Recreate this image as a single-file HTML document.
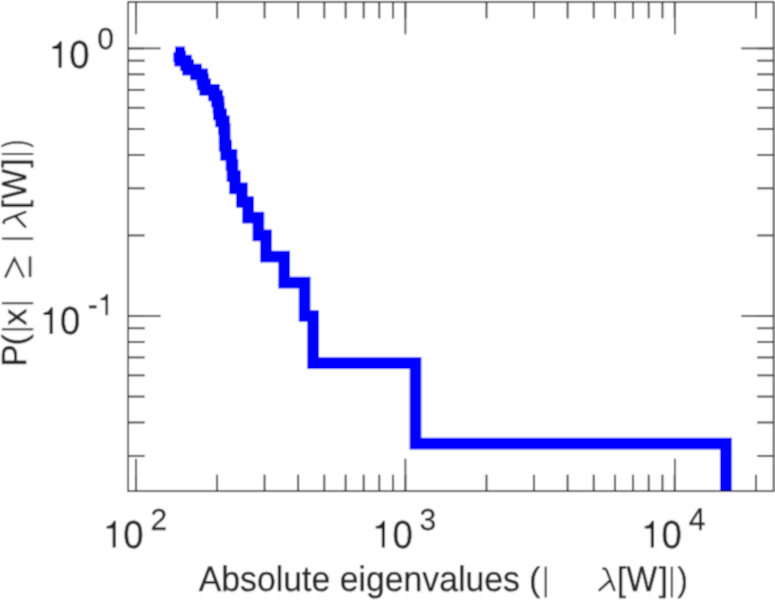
<!DOCTYPE html>
<html><head><meta charset="utf-8"><style>
html,body{margin:0;padding:0;background:#fff;overflow:hidden}
svg{display:block}
text{font-family:"Liberation Sans",sans-serif;text-rendering:geometricPrecision}
</style></head><body>
<svg width="775" height="600" viewBox="0 0 775 600">
<defs><clipPath id="clip"><rect x="128.2" y="1.95" width="645.40" height="489.20"/></clipPath><filter id="bl" filterUnits="userSpaceOnUse" x="0" y="0" width="775" height="600"><feConvolveMatrix order="3" kernelMatrix="1 2 1 2 4 2 1 2 1" edgeMode="duplicate"/></filter></defs>
<g filter="url(#bl)">
<rect width="775" height="600" fill="#fff"/>
<path d="M175,52.34 H179.20 V56.42 H180.20 V60.64 H186.00 V65.03 H188.10 V69.59 H196.00 V74.33 H202.20 V79.28 H203.00 V84.45 H205.20 V89.85 H214.00 V95.52 H217.00 V101.48 H218.50 V107.77 H218.90 V114.41 H221.10 V121.46 H223.90 V128.96 H224.60 V136.97 H224.70 V145.59 H226.10 V154.89 H231.50 V165.00 H232.50 V176.08 H235.00 V188.32 H241.90 V202.01 H248.10 V217.53 H258.40 V235.44 H266.00 V256.63 H284.20 V282.57 H304.60 V316.00 H313.10 V363.12 H415.50 V443.68 H725.90 V520" fill="none" stroke="#0000ff" stroke-width="11.7" stroke-linejoin="miter" stroke-linecap="butt" clip-path="url(#clip)"/>
<g><line x1="217.10" y1="491.15" x2="217.10" y2="474.65" stroke="#262626" stroke-width="1.8"/><line x1="217.10" y1="1.95" x2="217.10" y2="18.45" stroke="#262626" stroke-width="1.8"/><line x1="264.54" y1="491.15" x2="264.54" y2="474.65" stroke="#262626" stroke-width="1.8"/><line x1="264.54" y1="1.95" x2="264.54" y2="18.45" stroke="#262626" stroke-width="1.8"/><line x1="298.19" y1="491.15" x2="298.19" y2="474.65" stroke="#262626" stroke-width="1.8"/><line x1="298.19" y1="1.95" x2="298.19" y2="18.45" stroke="#262626" stroke-width="1.8"/><line x1="324.30" y1="491.15" x2="324.30" y2="474.65" stroke="#262626" stroke-width="1.8"/><line x1="324.30" y1="1.95" x2="324.30" y2="18.45" stroke="#262626" stroke-width="1.8"/><line x1="345.63" y1="491.15" x2="345.63" y2="474.65" stroke="#262626" stroke-width="1.8"/><line x1="345.63" y1="1.95" x2="345.63" y2="18.45" stroke="#262626" stroke-width="1.8"/><line x1="363.67" y1="491.15" x2="363.67" y2="474.65" stroke="#262626" stroke-width="1.8"/><line x1="363.67" y1="1.95" x2="363.67" y2="18.45" stroke="#262626" stroke-width="1.8"/><line x1="379.29" y1="491.15" x2="379.29" y2="474.65" stroke="#262626" stroke-width="1.8"/><line x1="379.29" y1="1.95" x2="379.29" y2="18.45" stroke="#262626" stroke-width="1.8"/><line x1="393.07" y1="491.15" x2="393.07" y2="474.65" stroke="#262626" stroke-width="1.8"/><line x1="393.07" y1="1.95" x2="393.07" y2="18.45" stroke="#262626" stroke-width="1.8"/><line x1="486.50" y1="491.15" x2="486.50" y2="474.65" stroke="#262626" stroke-width="1.8"/><line x1="486.50" y1="1.95" x2="486.50" y2="18.45" stroke="#262626" stroke-width="1.8"/><line x1="533.94" y1="491.15" x2="533.94" y2="474.65" stroke="#262626" stroke-width="1.8"/><line x1="533.94" y1="1.95" x2="533.94" y2="18.45" stroke="#262626" stroke-width="1.8"/><line x1="567.59" y1="491.15" x2="567.59" y2="474.65" stroke="#262626" stroke-width="1.8"/><line x1="567.59" y1="1.95" x2="567.59" y2="18.45" stroke="#262626" stroke-width="1.8"/><line x1="593.70" y1="491.15" x2="593.70" y2="474.65" stroke="#262626" stroke-width="1.8"/><line x1="593.70" y1="1.95" x2="593.70" y2="18.45" stroke="#262626" stroke-width="1.8"/><line x1="615.03" y1="491.15" x2="615.03" y2="474.65" stroke="#262626" stroke-width="1.8"/><line x1="615.03" y1="1.95" x2="615.03" y2="18.45" stroke="#262626" stroke-width="1.8"/><line x1="633.07" y1="491.15" x2="633.07" y2="474.65" stroke="#262626" stroke-width="1.8"/><line x1="633.07" y1="1.95" x2="633.07" y2="18.45" stroke="#262626" stroke-width="1.8"/><line x1="648.69" y1="491.15" x2="648.69" y2="474.65" stroke="#262626" stroke-width="1.8"/><line x1="648.69" y1="1.95" x2="648.69" y2="18.45" stroke="#262626" stroke-width="1.8"/><line x1="662.47" y1="491.15" x2="662.47" y2="474.65" stroke="#262626" stroke-width="1.8"/><line x1="662.47" y1="1.95" x2="662.47" y2="18.45" stroke="#262626" stroke-width="1.8"/><line x1="755.90" y1="491.15" x2="755.90" y2="474.65" stroke="#262626" stroke-width="1.8"/><line x1="755.90" y1="1.95" x2="755.90" y2="18.45" stroke="#262626" stroke-width="1.8"/><line x1="136.00" y1="491.15" x2="136.00" y2="474.65" stroke="#262626" stroke-width="2.0"/><line x1="136.00" y1="1.95" x2="136.00" y2="18.45" stroke="#262626" stroke-width="2.0"/><line x1="136.00" y1="474.65" x2="136.00" y2="458.75" stroke="#262626" stroke-width="1.65"/><line x1="136.00" y1="18.45" x2="136.00" y2="34.35" stroke="#262626" stroke-width="1.65"/><line x1="405.40" y1="491.15" x2="405.40" y2="474.65" stroke="#262626" stroke-width="2.0"/><line x1="405.40" y1="1.95" x2="405.40" y2="18.45" stroke="#262626" stroke-width="2.0"/><line x1="405.40" y1="474.65" x2="405.40" y2="458.75" stroke="#262626" stroke-width="1.65"/><line x1="405.40" y1="18.45" x2="405.40" y2="34.35" stroke="#262626" stroke-width="1.65"/><line x1="674.80" y1="491.15" x2="674.80" y2="474.65" stroke="#262626" stroke-width="2.0"/><line x1="674.80" y1="1.95" x2="674.80" y2="18.45" stroke="#262626" stroke-width="2.0"/><line x1="674.80" y1="474.65" x2="674.80" y2="458.75" stroke="#262626" stroke-width="1.65"/><line x1="674.80" y1="18.45" x2="674.80" y2="34.35" stroke="#262626" stroke-width="1.65"/><line x1="128.20" y1="455.92" x2="144.70" y2="455.92" stroke="#262626" stroke-width="1.8"/><line x1="773.60" y1="455.92" x2="757.10" y2="455.92" stroke="#262626" stroke-width="1.8"/><line x1="128.20" y1="422.49" x2="144.70" y2="422.49" stroke="#262626" stroke-width="1.8"/><line x1="773.60" y1="422.49" x2="757.10" y2="422.49" stroke="#262626" stroke-width="1.8"/><line x1="128.20" y1="396.56" x2="144.70" y2="396.56" stroke="#262626" stroke-width="1.8"/><line x1="773.60" y1="396.56" x2="757.10" y2="396.56" stroke="#262626" stroke-width="1.8"/><line x1="128.20" y1="375.37" x2="144.70" y2="375.37" stroke="#262626" stroke-width="1.8"/><line x1="773.60" y1="375.37" x2="757.10" y2="375.37" stroke="#262626" stroke-width="1.8"/><line x1="128.20" y1="357.45" x2="144.70" y2="357.45" stroke="#262626" stroke-width="1.8"/><line x1="773.60" y1="357.45" x2="757.10" y2="357.45" stroke="#262626" stroke-width="1.8"/><line x1="128.20" y1="341.93" x2="144.70" y2="341.93" stroke="#262626" stroke-width="1.8"/><line x1="773.60" y1="341.93" x2="757.10" y2="341.93" stroke="#262626" stroke-width="1.8"/><line x1="128.20" y1="328.24" x2="144.70" y2="328.24" stroke="#262626" stroke-width="1.8"/><line x1="773.60" y1="328.24" x2="757.10" y2="328.24" stroke="#262626" stroke-width="1.8"/><line x1="128.20" y1="235.44" x2="144.70" y2="235.44" stroke="#262626" stroke-width="1.8"/><line x1="773.60" y1="235.44" x2="757.10" y2="235.44" stroke="#262626" stroke-width="1.8"/><line x1="128.20" y1="188.32" x2="144.70" y2="188.32" stroke="#262626" stroke-width="1.8"/><line x1="773.60" y1="188.32" x2="757.10" y2="188.32" stroke="#262626" stroke-width="1.8"/><line x1="128.20" y1="154.89" x2="144.70" y2="154.89" stroke="#262626" stroke-width="1.8"/><line x1="773.60" y1="154.89" x2="757.10" y2="154.89" stroke="#262626" stroke-width="1.8"/><line x1="128.20" y1="128.96" x2="144.70" y2="128.96" stroke="#262626" stroke-width="1.8"/><line x1="773.60" y1="128.96" x2="757.10" y2="128.96" stroke="#262626" stroke-width="1.8"/><line x1="128.20" y1="107.77" x2="144.70" y2="107.77" stroke="#262626" stroke-width="1.8"/><line x1="773.60" y1="107.77" x2="757.10" y2="107.77" stroke="#262626" stroke-width="1.8"/><line x1="128.20" y1="89.85" x2="144.70" y2="89.85" stroke="#262626" stroke-width="1.8"/><line x1="773.60" y1="89.85" x2="757.10" y2="89.85" stroke="#262626" stroke-width="1.8"/><line x1="128.20" y1="74.33" x2="144.70" y2="74.33" stroke="#262626" stroke-width="1.8"/><line x1="773.60" y1="74.33" x2="757.10" y2="74.33" stroke="#262626" stroke-width="1.8"/><line x1="128.20" y1="60.64" x2="144.70" y2="60.64" stroke="#262626" stroke-width="1.8"/><line x1="773.60" y1="60.64" x2="757.10" y2="60.64" stroke="#262626" stroke-width="1.8"/><line x1="128.20" y1="48.40" x2="144.70" y2="48.40" stroke="#262626" stroke-width="2.0"/><line x1="773.60" y1="48.40" x2="757.10" y2="48.40" stroke="#262626" stroke-width="2.0"/><line x1="144.70" y1="48.40" x2="160.60" y2="48.40" stroke="#262626" stroke-width="1.65"/><line x1="757.10" y1="48.40" x2="741.20" y2="48.40" stroke="#262626" stroke-width="1.65"/><line x1="128.20" y1="316.00" x2="144.70" y2="316.00" stroke="#262626" stroke-width="2.0"/><line x1="773.60" y1="316.00" x2="757.10" y2="316.00" stroke="#262626" stroke-width="2.0"/><line x1="144.70" y1="316.00" x2="160.60" y2="316.00" stroke="#262626" stroke-width="1.65"/><line x1="757.10" y1="316.00" x2="741.20" y2="316.00" stroke="#262626" stroke-width="1.65"/></g>
<rect x="128.2" y="1.95" width="645.40" height="489.20" fill="none" stroke="#262626" stroke-width="1.6"/>
<g fill="#262626" font-family="Liberation Sans, sans-serif" text-rendering="geometricPrecision"><polygon points="61.70,41.20 61.70,67.80 58.50,67.80 58.50,49.00 52.50,49.00 52.30,46.60 56.50,45.30 58.90,42.60 59.70,41.20"/><text transform="translate(69.27,68.40) scale(1,1.07)" font-size="36.5" stroke="#262626" stroke-width="0.35">0</text><polygon points="52.80,307.30 52.80,333.90 49.60,333.90 49.60,315.10 43.60,315.10 43.40,312.70 47.60,311.40 50.00,308.70 50.80,307.30"/><text transform="translate(60.07,333.90) scale(1,1.07)" font-size="36.5" stroke="#262626" stroke-width="0.35">0</text><polygon points="115.80,520.80 115.80,547.40 112.60,547.40 112.60,528.60 106.60,528.60 106.40,526.20 110.60,524.90 113.00,522.20 113.80,520.80"/><text transform="translate(123.37,548.00) scale(1,1.07)" font-size="36.5" stroke="#262626" stroke-width="0.35">0</text><polygon points="385.00,520.80 385.00,547.40 381.80,547.40 381.80,528.60 375.80,528.60 375.60,526.20 379.80,524.90 382.20,522.20 383.00,520.80"/><text transform="translate(392.57,548.00) scale(1,1.07)" font-size="36.5" stroke="#262626" stroke-width="0.35">0</text><polygon points="654.00,520.80 654.00,547.40 650.80,547.40 650.80,528.60 644.80,528.60 644.60,526.20 648.80,524.90 651.20,522.20 652.00,520.80"/><text transform="translate(661.57,548.00) scale(1,1.07)" font-size="36.5" stroke="#262626" stroke-width="0.35">0</text><text transform="translate(97.33,49.40) scale(1,1.01)" font-size="30.0" stroke="#262626" stroke-width="0.35">0</text><text transform="translate(87.87,315.20) scale(1,1.01)" font-size="30.0" stroke="#262626" stroke-width="0.35">-</text><polygon points="108.06,293.92 108.06,315.20 105.50,315.20 105.50,300.16 100.70,300.16 100.54,298.24 103.90,297.20 105.82,295.04 106.46,293.92"/><text transform="translate(150.39,529.50) scale(1,1.01)" font-size="30.0" stroke="#262626" stroke-width="0.35">2</text><text transform="translate(419.56,529.50) scale(1,1.01)" font-size="30.0" stroke="#262626" stroke-width="0.35">3</text><text transform="translate(688.81,529.50) scale(1,1.06)" font-size="30.0" stroke="#262626" stroke-width="0.35">4</text><g transform="translate(0,591.0)"><text x="198.73" y="0" font-size="33.8" stroke="#262626" stroke-width="0.4" transform="scale(1,1.05)">Absolute eigenvalues </text><text x="528.90" y="0" font-size="33.8" stroke="#262626" stroke-width="0.4">(</text><rect x="544.70" y="-24.4" width="2.0" height="30.80"/><path d="M4.4,-22.3 C6.0,-22.6 7.1,-21.9 7.8,-20.3 L15.4,-0.9 M10.5,-10.0 L0.5,-0.8" transform="translate(599.00,0)" fill="none" stroke="#262626" stroke-width="2.5" stroke-linecap="round" stroke-linejoin="round"/><text x="616.69" y="0" font-size="33.8" stroke="#262626" stroke-width="0.4">[</text><text x="626.45" y="0" font-size="33.8" stroke="#262626" stroke-width="0.4" transform="scale(1,1.05)" textLength="30.6" lengthAdjust="spacingAndGlyphs">W</text><text x="658.74" y="0" font-size="33.8" stroke="#262626" stroke-width="0.4">]</text><rect x="670.80" y="-24.4" width="2.0" height="30.80"/><text x="677.60" y="0" font-size="33.8" stroke="#262626" stroke-width="0.4" textLength="10.3" lengthAdjust="spacingAndGlyphs">)</text></g><g transform="translate(26.1,367.0) rotate(-90)"><text x="0.13" y="0" font-size="33.8" stroke="#262626" stroke-width="0.4" transform="scale(1,1.03)">P</text><text x="21.40" y="0" font-size="33.8" stroke="#262626" stroke-width="0.4">(</text><text x="41.42" y="0" font-size="33.8" stroke="#262626" stroke-width="0.4">x</text><rect x="36.70" y="-24.2" width="2.0" height="31.40"/><rect x="62.80" y="-24.2" width="2.0" height="31.40"/><path d="M89.5,-20.9 L108.5,-11.8 L89.5,-2.3 M89.9,4.0 H110.6" fill="none" stroke="#262626" stroke-width="2.3" stroke-linejoin="miter"/><rect x="127.40" y="-24.2" width="2.0" height="31.40"/><path d="M4.4,-22.3 C6.0,-22.6 7.1,-21.9 7.8,-20.3 L15.4,-0.9 M10.5,-10.0 L0.5,-0.8" transform="translate(139.60,0)" fill="none" stroke="#262626" stroke-width="2.5" stroke-linecap="round" stroke-linejoin="round"/><text x="157.79" y="0" font-size="33.8" stroke="#262626" stroke-width="0.4">[</text><text x="168.35" y="0" font-size="33.8" stroke="#262626" stroke-width="0.4" transform="scale(1,1.03)" textLength="29.8" lengthAdjust="spacingAndGlyphs">W</text><text x="199.24" y="0" font-size="33.8" stroke="#262626" stroke-width="0.4">]</text><rect x="212.00" y="-24.2" width="2.0" height="31.40"/><text x="219.70" y="0" font-size="33.8" stroke="#262626" stroke-width="0.4" textLength="7.2" lengthAdjust="spacingAndGlyphs">)</text></g></g>
</g>
</svg>
</body></html>
